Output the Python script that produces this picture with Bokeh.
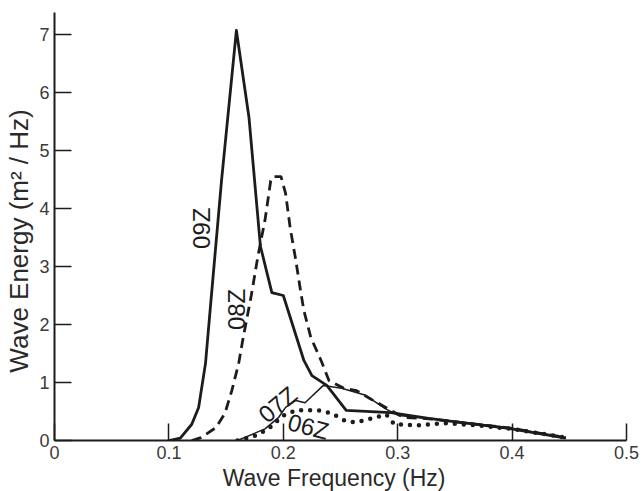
import math
from bokeh.plotting import figure
from bokeh.models import Range1d, FixedTicker, ColumnDataSource
from bokeh.embed import file_html
from bokeh.resources import INLINE
from bokeh.core.properties import value

# ---- data ----
freq_09z = [0.100, 0.110, 0.120, 0.126, 0.132, 0.136, 0.146, 0.159, 0.170, 0.180,
            0.190, 0.200, 0.218, 0.225, 0.238, 0.255, 0.294, 0.327, 0.356, 0.397, 0.447]
energy_09z = [0.00, 0.04, 0.28, 0.57, 1.33, 2.24, 4.48, 7.07, 5.57, 3.35,
              2.55, 2.50, 1.38, 1.12, 0.95, 0.52, 0.48, 0.38, 0.31, 0.21, 0.04]

freq_08z = [0.120, 0.128, 0.141, 0.149, 0.155, 0.161, 0.165, 0.172, 0.178, 0.184,
            0.189, 0.191, 0.198, 0.202, 0.206, 0.211, 0.215, 0.218, 0.224, 0.233,
            0.240, 0.253, 0.264, 0.276, 0.294, 0.305, 0.330, 0.360, 0.400, 0.447]
energy_08z = [0.00, 0.05, 0.22, 0.47, 0.86, 1.33, 1.78, 2.50, 3.20, 3.80,
              4.48, 4.55, 4.55, 4.26, 3.67, 3.10, 2.59, 2.24, 1.78, 1.38,
              1.03, 0.90, 0.86, 0.72, 0.52, 0.40, 0.37, 0.30, 0.21, 0.05]

freq_07z = [0.160, 0.184, 0.196, 0.202, 0.211, 0.219, 0.235, 0.251, 0.272, 0.289,
            0.301, 0.330, 0.360, 0.400, 0.447]
energy_07z = [0.00, 0.20, 0.40, 0.57, 0.69, 0.65, 0.95, 0.90, 0.78, 0.55,
              0.43, 0.37, 0.31, 0.21, 0.05]

freq_06z = [0.160, 0.175, 0.187, 0.193, 0.200, 0.211, 0.231, 0.242, 0.254, 0.263,
            0.277, 0.290, 0.297, 0.316, 0.340, 0.370, 0.400, 0.447]
energy_06z = [0.00, 0.08, 0.20, 0.31, 0.43, 0.52, 0.52, 0.47, 0.34, 0.31,
              0.38, 0.45, 0.28, 0.26, 0.30, 0.26, 0.20, 0.05]

label_text = ["09Z", "08Z", "07Z", "06Z"]
label_x = [0.1285, 0.159, 0.195, 0.222]
label_y = [3.66, 2.26, 0.62, 0.24]
label_angle_deg = [90, 90, 40, -15]

x_ticks = [0, 0.1, 0.2, 0.3, 0.4, 0.5]
x_tick_labels = ["0", "0.1", "0.2", "0.3", "0.4", "0.5"]
y_ticks = [0, 1, 2, 3, 4, 5, 6, 7]
y_tick_labels = ["0", "1", "2", "3", "4", "5", "6", "7"]

INK = "#1c1c1c"
FONT = "Liberation Sans"

p = figure(width=640, height=500, output_backend="svg", toolbar_location=None,
           x_range=Range1d(0, 0.5), y_range=Range1d(0, 7.38),
           min_border_left=54, min_border_right=14, min_border_top=12, min_border_bottom=60)
p.outline_line_color = None
p.grid.visible = False
p.background_fill_color = "white"
p.border_fill_color = "white"

p.line(freq_09z, energy_09z, line_color=INK, line_width=2.8, line_join="round")
p.line(freq_08z, energy_08z, line_color=INK, line_width=2.8, line_dash="10 6")
p.line(freq_07z, energy_07z, line_color=INK, line_width=1.5, line_join="round")
p.line(freq_06z, energy_06z, line_color=INK, line_width=4.5, line_dash="0 9", line_cap="round")

src = ColumnDataSource(dict(x=label_x, y=label_y, t=label_text,
                            a=[math.radians(d) for d in label_angle_deg]))
p.text(x="x", y="y", text="t", angle="a", source=src, text_font=value(FONT),
       text_font_size="24px", text_color=INK, text_align="center", text_baseline="middle")

for ax, ticks, labels in ((p.xaxis, x_ticks, x_tick_labels), (p.yaxis, y_ticks, y_tick_labels)):
    ax.ticker = FixedTicker(ticks=ticks)
    ax.major_label_overrides = {t: l for t, l in zip(ticks, labels)}
    ax.minor_tick_line_color = None
    ax.major_tick_in = 17
    ax.major_tick_out = 0
    ax.major_tick_line_color = INK
    ax.major_tick_line_width = 1.5
    ax.axis_line_color = INK
    ax.axis_line_width = 2
    ax.major_label_text_font = FONT
    ax.major_label_text_font_size = "18px"
    ax.major_label_text_color = "#3a3a3a"
    ax.axis_label_text_font = FONT
    ax.axis_label_text_font_style = "normal"
    ax.axis_label_text_color = "#2a2a2a"

p.xaxis.axis_label_text_font_size = "23px"
p.yaxis.axis_label_text_font_size = "26px"
p.xaxis.axis_label = "Wave Frequency (Hz)\u00a0\u00a0"
p.yaxis.axis_label = "Wave Energy (m² / Hz)\u00a0\u00a0\u00a0\u00a0"
p.xaxis.major_label_standoff = 5
p.yaxis.major_label_standoff = 5
p.xaxis.axis_label_standoff = 3
p.yaxis.axis_label_standoff = 2

open("out.html", "w").write(file_html(p, INLINE))
